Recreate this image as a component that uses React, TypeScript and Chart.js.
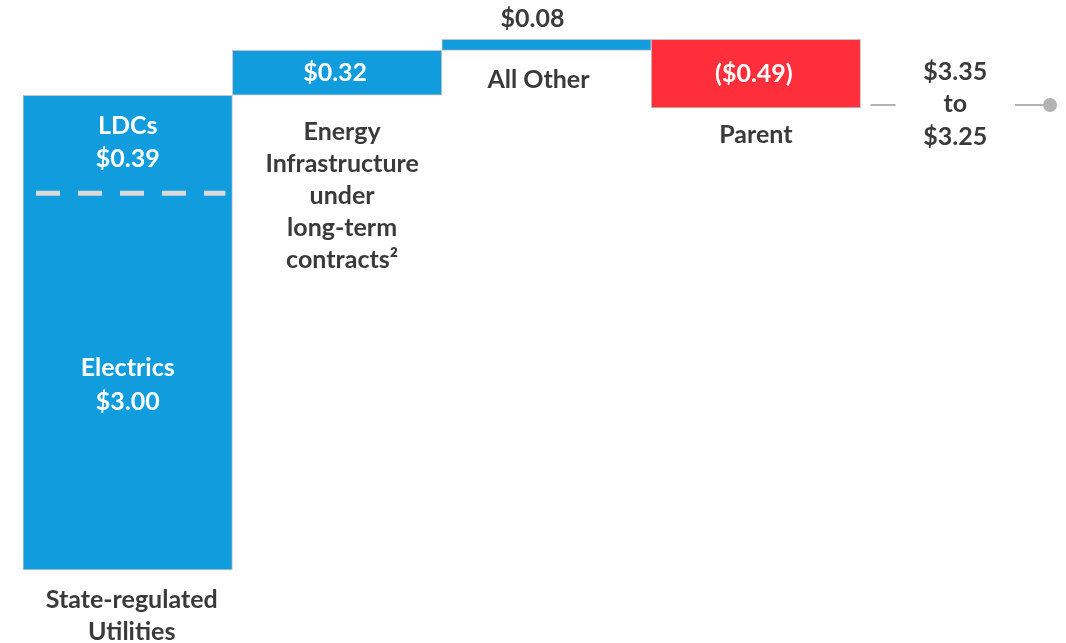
import React, { useEffect, useRef } from "react";
import { Chart, registerables } from "chart.js";

Chart.register(...registerables);

// ---- Data ----
const categoryKeys = ["State-regulated Utilities", "Energy Infrastructure", "All Other", "Parent", "Guidance"];
const categoryLabelLines: string[][] = [
  ["State-regulated", "Utilities"],
  ["Energy", "Infrastructure", "under", "long-term", "contracts²"],
  ["All Other"],
  ["Parent"],
  [],
];
const barStarts: (number | null)[] = [0, 3.39, 3.71, 3.79, null];
const barEnds: (number | null)[] = [3.39, 3.71, 3.79, 3.3, null];
const barValueLabels = ["", "$0.32", "$0.08", "($0.49)", ""];
const barValueInside = [true, true, false, true, false];
const barColors = ["#109cdd", "#109cdd", "#109cdd", "#fe2e3b", "#109cdd"];

// Sub-segments of the first bar
const segmentNames = ["LDCs", "Electrics"];
const segmentValues = ["$0.39", "$3.00"];
const segmentDividerValue = 2.69; // dashed divider, as drawn

// Guidance range
const rangeHigh = "$3.35";
const rangeLow = "$3.25";
const rangeLevel = 3.32;

const TEXT_DARK = "#3a3a3a";
const FONT = "bold 25px Lato, 'Open Sans', sans-serif";

const labelsPlugin = {
  id: "waterfallLabels",
  afterDatasetsDraw(chart: any) {
    const { ctx, scales } = chart;
    const y = scales.y;
    const meta = chart.getDatasetMeta(0);
    ctx.save();
    ctx.font = FONT;
    ctx.textAlign = "center";
    ctx.textBaseline = "middle";

    const belowGaps = [30, 37, 30, 27];
    const lineH = 32;

    meta.data.forEach((el: any, i: number) => {
      if (barStarts[i] === null) return;
      const top = Math.min(el.y, el.base);
      const bottom = Math.max(el.y, el.base);
      const cx = el.x;
      // value label
      if (barValueLabels[i]) {
        if (barValueInside[i]) {
          ctx.fillStyle = "#ffffff";
          ctx.fillText(barValueLabels[i], cx - 2, (top + bottom) / 2);
        } else {
          ctx.fillStyle = TEXT_DARK;
          ctx.fillText(barValueLabels[i], cx - 14, top - 20);
        }
      }
      // category labels below
      ctx.fillStyle = TEXT_DARK;
      const lines = categoryLabelLines[i];
      const dx = i === 2 ? -8 : i === 1 ? 5 : i === 0 ? 4 : 0;
      lines.forEach((ln, k) => {
        ctx.fillText(ln, cx + dx, bottom + belowGaps[i] + k * lineH);
      });
    });

    // first bar segments
    const b0: any = meta.data[0];
    const top0 = Math.min(b0.y, b0.base);
    const bot0 = Math.max(b0.y, b0.base);
    const divY = y.getPixelForValue(segmentDividerValue);
    ctx.fillStyle = "#ffffff";
    const c1 = (top0 + divY) / 2 - 2;
    ctx.fillText(segmentNames[0], b0.x, c1 - 16);
    ctx.fillText(segmentValues[0], b0.x, c1 + 17);
    const c2 = (divY + bot0) / 2 + 3;
    ctx.fillText(segmentNames[1], b0.x, c2 - 17);
    ctx.fillText(segmentValues[1], b0.x, c2 + 17);
    // dashed divider
    ctx.strokeStyle = "#d9d9d9";
    ctx.lineWidth = 5;
    ctx.setLineDash([24, 18]);
    ctx.beginPath();
    ctx.moveTo(b0.x - b0.width / 2 + 13, divY);
    ctx.lineTo(b0.x + b0.width / 2 - 7, divY);
    ctx.stroke();
    ctx.setLineDash([]);

    // guidance range
    const el5: any = meta.data[4];
    const w = meta.data[3].width;
    const left = el5.x - w / 2;
    const right = el5.x + w / 2;
    const ly = y.getPixelForValue(rangeLevel);
    ctx.strokeStyle = "#b3b3b3";
    ctx.lineWidth = 2;
    ctx.beginPath();
    ctx.moveTo(left + 10, ly);
    ctx.lineTo(left + 35, ly);
    ctx.moveTo(right - 55, ly);
    ctx.lineTo(right - 20, ly);
    ctx.stroke();
    ctx.fillStyle = "#b3b3b3";
    ctx.beginPath();
    ctx.arc(right - 20, ly, 7, 0, Math.PI * 2);
    ctx.fill();
    ctx.fillStyle = TEXT_DARK;
    const tx = el5.x - 10;
    ctx.fillText(rangeHigh, tx, ly - 33);
    ctx.fillText("to", tx, ly - 1);
    ctx.fillText(rangeLow, tx, ly + 32);
    ctx.restore();
  },
};

export default function App() {
  const ref = useRef<HTMLCanvasElement>(null);
  useEffect(() => {
    const data = barStarts.map((s, i) => (s === null ? null : [s, barEnds[i] as number]));
    const chart = new Chart(ref.current!, {
      type: "bar",
      data: {
        labels: categoryKeys,
        datasets: [
          {
            data: data as any,
            backgroundColor: barColors,
            borderColor: "#c4c4c4",
            borderWidth: 1,
            borderSkipped: false,
            barPercentage: 1,
            categoryPercentage: 1,
          },
        ],
      },
      options: {
        animation: false,
        responsive: true,
        maintainAspectRatio: false,
        layout: { padding: { left: 23, right: 5, top: 0, bottom: 73 } },
        scales: {
          x: { display: false, grid: { display: false } },
          y: { display: false, min: 0, max: 4.07 },
        },
        plugins: { legend: { display: false }, tooltip: { enabled: false } },
      },
      plugins: [labelsPlugin],
    });
    return () => chart.destroy();
  }, []);
  return (
    <div style={{ position: "fixed", left: 0, top: 0, width: 1066, height: 643, overflow: "hidden", background: "#fff" }}>
      <div style={{ position: "relative", width: 1075, height: 643 }}>
        <canvas ref={ref} />
      </div>
    </div>
  );
}
